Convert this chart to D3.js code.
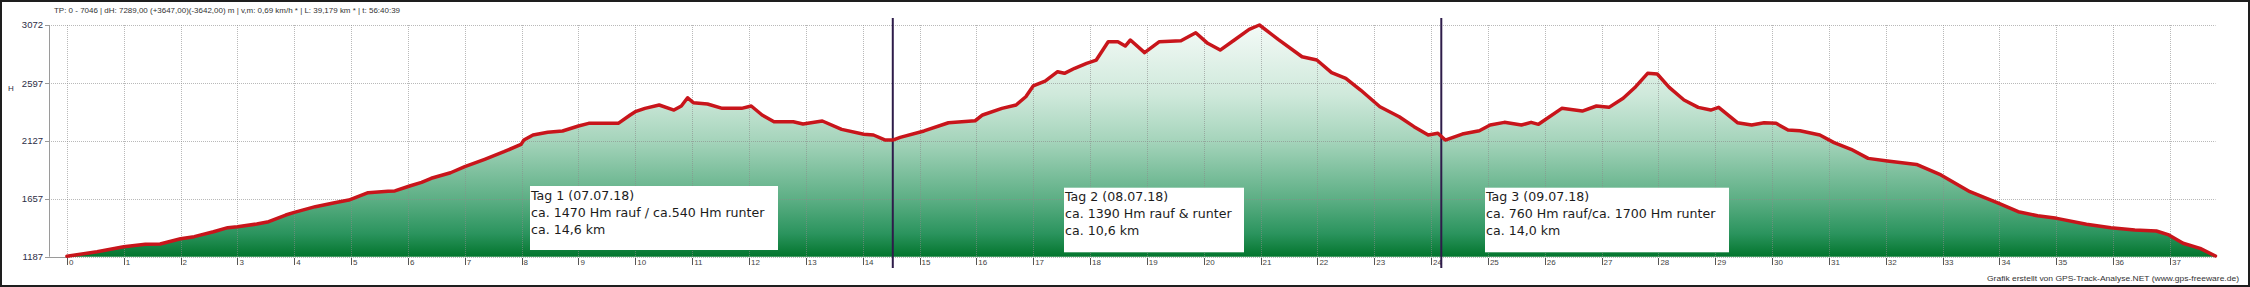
<!DOCTYPE html>
<html><head><meta charset="utf-8">
<script src="https://cdn.jsdelivr.net/npm/d3@7"></script>
<style>body{margin:0;background:#fff}svg{display:block}</style>
</head><body>
<script>
// ---- data ----
const kmValues = [0.00,0.53,1.00,1.38,1.64,2.00,2.24,2.58,2.83,3.00,3.34,3.55,3.85,4.00,4.37,4.71,4.96,5.30,5.65,5.77,6.03,6.24,6.41,6.75,7.00,7.35,7.69,7.99,8.04,8.20,8.46,8.72,9.00,9.18,9.70,9.91,10.00,10.17,10.42,10.68,10.81,10.92,11.02,11.27,11.53,11.87,12.04,12.23,12.44,12.78,12.95,13.29,13.63,14.02,14.19,14.40,14.53,14.66,15.08,15.51,15.98,16.11,16.45,16.70,16.87,17.00,17.21,17.43,17.55,17.73,17.94,18.11,18.32,18.49,18.62,18.71,18.96,19.22,19.60,19.86,20.07,20.29,20.54,20.80,20.98,21.31,21.73,21.99,22.25,22.50,22.76,23.10,23.44,23.70,23.95,24.12,24.25,24.55,24.85,25.04,25.29,25.59,25.76,25.89,26.30,26.66,26.91,27.13,27.38,27.60,27.81,27.98,28.19,28.45,28.70,28.92,29.06,29.39,29.64,29.86,30.07,30.28,30.49,30.84,31.09,31.39,31.69,32.03,32.54,32.97,33.48,33.73,33.99,34.33,34.67,35.01,35.53,35.96,36.38,36.76,36.98,37.23,37.53,37.80];
const elevValues = [1190,1228,1268,1288,1290,1333,1350,1390,1423,1431,1453,1472,1526,1548,1594,1626,1648,1708,1719,1722,1762,1792,1825,1870,1919,1979,2041,2101,2136,2177,2199,2210,2250,2272,2272,2340,2367,2394,2421,2380,2413,2480,2440,2429,2394,2394,2413,2340,2285,2285,2267,2291,2223,2183,2177,2136,2136,2158,2210,2277,2293,2340,2394,2421,2488,2576,2616,2692,2679,2720,2760,2787,2936,2936,2901,2950,2847,2936,2944,3009,2923,2868,2950,3037,3072,2955,2814,2787,2684,2638,2543,2407,2326,2245,2177,2191,2136,2185,2212,2258,2280,2258,2280,2264,2394,2372,2413,2402,2476,2570,2679,2673,2565,2462,2402,2380,2402,2277,2258,2277,2272,2218,2212,2177,2115,2061,1987,1966,1938,1852,1716,1670,1621,1553,1520,1499,1451,1423,1404,1396,1364,1296,1255,1193];
const yTickValues = [1187,1657,2127,2597,3072];
const xTickLabels = [0,1,2,3,4,5,6,7,8,9,10,11,12,13,14,15,16,17,18,19,20,21,22,23,24,25,26,27,28,29,30,31,32,33,34,35,36,37];
const dayBreaks = [14.53, 24.18];
const dayTitles = ["Tag 1 (07.07.18)","Tag 2 (08.07.18)","Tag 3 (09.07.18)"];
const dayClimbs = ["ca. 1470 Hm rauf / ca.540 Hm runter","ca. 1390 Hm rauf & runter","ca. 760 Hm rauf/ca. 1700 Hm runter"];
const dayDistances = ["ca. 14,6 km","ca. 10,6 km","ca. 14,0 km"];
const headerText = "TP: 0 - 7046 | dH: 7289,00 (+3647,00)(-3642,00) m | v,m: 0,69 km/h * | L: 39,179 km * | t: 56:40:39";
const creditText = "Grafik erstellt von GPS-Track-Analyse.NET (www.gps-freeware.de)";
const yAxisTitle = "H";

// ---- layout ----
const W = 2250, H = 287;
const plotLeft = 49, plotRight = 2215.6, plotTop = 25, plotBottom = 256.7;
const x = d3.scaleLinear().domain([0, 37]).range([66.9, 66.9 + 37 * 56.84]);
const y = d3.scaleLinear().domain([1187, 3072]).range([plotBottom, plotTop]);

const svg = d3.select("body").append("svg").attr("width", W).attr("height", H);
svg.append("rect").attr("x", 1).attr("y", 1).attr("width", W - 2).attr("height", H - 2)
  .attr("fill", "#fff").attr("stroke", "#1e1e1e").attr("stroke-width", 2);

const defs = svg.append("defs");
const grad = defs.append("linearGradient").attr("id", "fillGrad")
  .attr("gradientUnits", "userSpaceOnUse").attr("x1", 0).attr("x2", 0)
  .attr("y1", plotTop).attr("y2", plotBottom);
[[0, "#f4faf7"], [0.3, "#cfe9db"], [0.5, "#a5d4bb"], [0.75, "#5daf85"], [0.9, "#2b945e"], [1, "#03752d"]]
  .forEach(([o, c]) => grad.append("stop").attr("offset", o).attr("stop-color", c));

const data = kmValues.map((k, i) => ({ km: k, ele: elevValues[i] }));

// area
svg.append("path").datum(data)
  .attr("d", d3.area().x(d => x(d.km)).y0(y(1187)).y1(d => y(d.ele)))
  .attr("fill", "url(#fillGrad)");

// grid
const grid = svg.append("g").attr("stroke", "#8a8a8a").attr("stroke-opacity", 0.6)
  .attr("stroke-dasharray", "1,1").attr("stroke-width", 1);
yTickValues.forEach(v => grid.append("line")
  .attr("x1", plotLeft).attr("x2", plotRight).attr("y1", Math.round(y(v)) + 0.5).attr("y2", Math.round(y(v)) + 0.5));
xTickLabels.forEach(v => grid.append("line")
  .attr("x1", Math.round(x(v)) + 0.5).attr("x2", Math.round(x(v)) + 0.5).attr("y1", plotTop).attr("y2", plotBottom));

// left axis
svg.append("line").attr("x1", plotLeft + 0.5).attr("x2", plotLeft + 0.5).attr("y1", plotTop).attr("y2", plotBottom)
  .attr("stroke", "#9a9a9a");
svg.append("line").attr("x1", plotLeft).attr("x2", x(0)).attr("y1", Math.round(plotBottom) + 0.5).attr("y2", Math.round(plotBottom) + 0.5)
  .attr("stroke", "#9a9a9a");
yTickValues.forEach(v => svg.append("line").attr("x1", plotLeft - 4).attr("x2", plotLeft)
  .attr("y1", Math.round(y(v)) + 0.5).attr("y2", Math.round(y(v)) + 0.5).attr("stroke", "#9a9a9a"));

// y labels
svg.append("g").selectAll("text").data(yTickValues).join("text")
  .attr("x", 43).attr("y", d => y(d)).attr("dy", "0.35em").attr("text-anchor", "end")
  .attr("font-family", "Liberation Sans, Arial, sans-serif").attr("font-size", 9.5).attr("fill", "#2d2d45")
  .text(d => d);
svg.append("text").attr("x", 8).attr("y", 91).attr("font-family", "Liberation Sans, Arial, sans-serif")
  .attr("font-size", 8).attr("fill", "#2d2d45").text(yAxisTitle);

// x ticks
const xt = svg.append("g");
xTickLabels.forEach(v => {
  xt.append("line").attr("x1", Math.round(x(v)) + 0.5).attr("x2", Math.round(x(v)) + 0.5)
    .attr("y1", 258).attr("y2", 265).attr("stroke", "#555");
  xt.append("text").attr("x", x(v) + 2).attr("y", 265).attr("font-family", "Liberation Sans, Arial, sans-serif")
    .attr("font-size", 8).attr("fill", "#444").text(v);
});

// day separators
svg.append("g").selectAll("line").data(dayBreaks).join("line")
  .attr("x1", d => x(d)).attr("x2", d => x(d)).attr("y1", 18).attr("y2", 268)
  .attr("stroke", "#2e1c4a").attr("stroke-width", 2);

// profile line
svg.append("path").datum(data)
  .attr("d", d3.line().x(d => x(d.km)).y(d => y(d.ele)))
  .attr("fill", "none").attr("stroke", "#c8151b").attr("stroke-width", 3.5)
  .attr("stroke-linejoin", "round").attr("stroke-linecap", "round");

// annotation boxes
const boxes = [{ x: 530, y: 186, w: 248, h: 64 }, { x: 1064, y: 187.7, w: 180, h: 64.6 }, { x: 1485, y: 187.7, w: 244, h: 64.6 }];
boxes.forEach((b, i) => {
  svg.append("rect").attr("x", b.x).attr("y", b.y).attr("width", b.w).attr("height", b.h).attr("fill", "#fff");
  const t = svg.append("text").attr("font-family", "DejaVu Sans, sans-serif").attr("font-size", 12.6).attr("fill", "#1c1c1c");
  [dayTitles[i], dayClimbs[i], dayDistances[i]].forEach((s, j) => {
    t.append("tspan").attr("x", b.x + 1).attr("y", b.y + 13.5 + j * 17).text(s);
  });
});

// header & credit
svg.append("text").attr("x", 54).attr("y", 13).attr("font-family", "Liberation Sans, Arial, sans-serif")
  .attr("font-size", 8).attr("fill", "#333").attr("textLength", 346).attr("lengthAdjust", "spacingAndGlyphs")
  .text(headerText);
svg.append("text").attr("x", 1987).attr("y", 281).attr("font-family", "Liberation Sans, Arial, sans-serif")
  .attr("font-size", 8).attr("fill", "#333").attr("textLength", 252).attr("lengthAdjust", "spacingAndGlyphs")
  .text(creditText);
</script>
</body></html>
